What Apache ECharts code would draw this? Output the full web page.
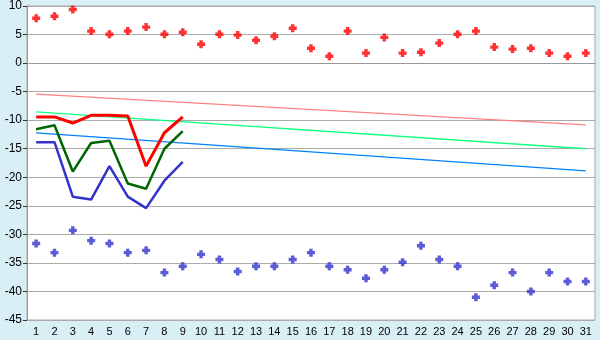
<!DOCTYPE html>
<html>
<head>
<meta charset="utf-8">
<script src="https://cdn.jsdelivr.net/npm/echarts@6/dist/echarts.min.js"></script>
<style>
html,body{margin:0;padding:0;background:#d9eff6;}
#c{width:600px;height:340px;}
</style>
</head>
<body>
<div id="c"></div>
<script>
var days = [];
for (var d = 1; d <= 31; d++) days.push(String(d));

var redMarks = [7.85, 8.2, 9.4, 5.6, 5.05, 5.6, 6.3, 5.05, 5.4, 3.3,
  5.05, 4.9, 4.0, 4.7, 6.1, 2.6, 1.2, 5.6, 1.75, 4.5,
  1.75, 1.9, 3.5, 5.05, 5.6, 2.8, 2.45, 2.6, 1.75, 1.2, 1.75];
var blueMarks = [-31.6, -33.2, -29.3, -31.1, -31.6, -33.2, -32.8, -36.7, -35.6, -33.5,
  -34.4, -36.5, -35.6, -35.6, -34.4, -33.2, -35.6, -36.2, -37.7, -36.2,
  -34.9, -32.0, -34.4, -35.6, -41.0, -38.9, -36.7, -40.0, -36.7, -38.25, -38.25];
var redLine = [-9.43, -9.43, -10.5, -9.15, -9.15, -9.27, -18.05, -12.2, -9.43];
var greenLine = [-11.6, -10.9, -19.0, -14.0, -13.6, -21.1, -22.0, -15.0, -11.9];
var blueLine = [-13.85, -13.85, -23.4, -23.9, -18.05, -23.4, -25.4, -20.6, -17.3];
// trend lines: value at day 1 and value at day 31
var pinkTrend = [-5.42, -10.83];
var greenTrend = [-8.56, -15.0];
var blueTrend = [-12.23, -18.87];
var yTicks = [10, 5, 0, -5, -10, -15, -20, -25, -30, -35, -40, -45];

function endpoints(pair) {
  var a = [];
  for (var i = 0; i < days.length; i++) a.push(null);
  a[0] = pair[0];
  a[days.length - 1] = pair[1];
  return a;
}

var sym = 'path://M2,0H5V2H7V5H5V7H2V5H0V2H2Z';

var chart = echarts.init(document.getElementById('c'), null, {renderer: 'canvas'});
chart.setOption({
  backgroundColor: '#d9eff6',
  animation: false,
  grid: {left: 27, right: 5, top: 5, bottom: 20, show: true, backgroundColor: '#ffffff', borderColor: '#aaaaaa', borderWidth: 1},
  xAxis: {
    type: 'category', data: days, boundaryGap: true,
    axisLine: {lineStyle: {color: '#999999', width: 1}},
    axisTick: {alignWithLabel: true, length: 5, lineStyle: {color: '#333333'}},
    axisLabel: {color: '#000', fontFamily: 'Liberation Sans', fontSize: 11, margin: 6, interval: 0},
    splitLine: {show: false}
  },
  yAxis: {
    type: 'value', min: -45, max: 10, interval: 5,
    axisLine: {show: true, lineStyle: {color: '#999999'}},
    axisTick: {show: true, length: 4, lineStyle: {color: '#333333'}},
    axisLabel: {color: '#000', fontFamily: 'Liberation Sans', fontSize: 12, margin: 5,
      formatter: function (v) { return yTicks.indexOf(v) >= 0 ? String(v) : ''; }},
    splitLine: {show: true, lineStyle: {color: '#aaaaaa', width: 1}}
  },
  series: [
    {type: 'line', data: endpoints(pinkTrend), connectNulls: true, symbol: 'none', lineStyle: {color: '#ff8080', width: 1.3}, silent: true},
    {type: 'line', data: endpoints(greenTrend), connectNulls: true, symbol: 'none', lineStyle: {color: '#10ff80', width: 1.3}, silent: true},
    {type: 'line', data: endpoints(blueTrend), connectNulls: true, symbol: 'none', lineStyle: {color: '#0080ff', width: 1.3}, silent: true},
    {type: 'line', data: blueLine, symbol: 'none', lineStyle: {color: '#3333cc', width: 2.5}},
    {type: 'line', data: greenLine, symbol: 'none', lineStyle: {color: '#006600', width: 2.5}},
    {type: 'line', data: redLine, symbol: 'none', lineStyle: {color: '#ff0000', width: 3}},
    {type: 'scatter', data: redMarks, symbol: sym, symbolSize: 8, itemStyle: {color: '#ff0000'}},
    {type: 'scatter', data: blueMarks, symbol: sym, symbolSize: 8, itemStyle: {color: '#3333cc'}}
  ]
});
</script>
</body>
</html>
